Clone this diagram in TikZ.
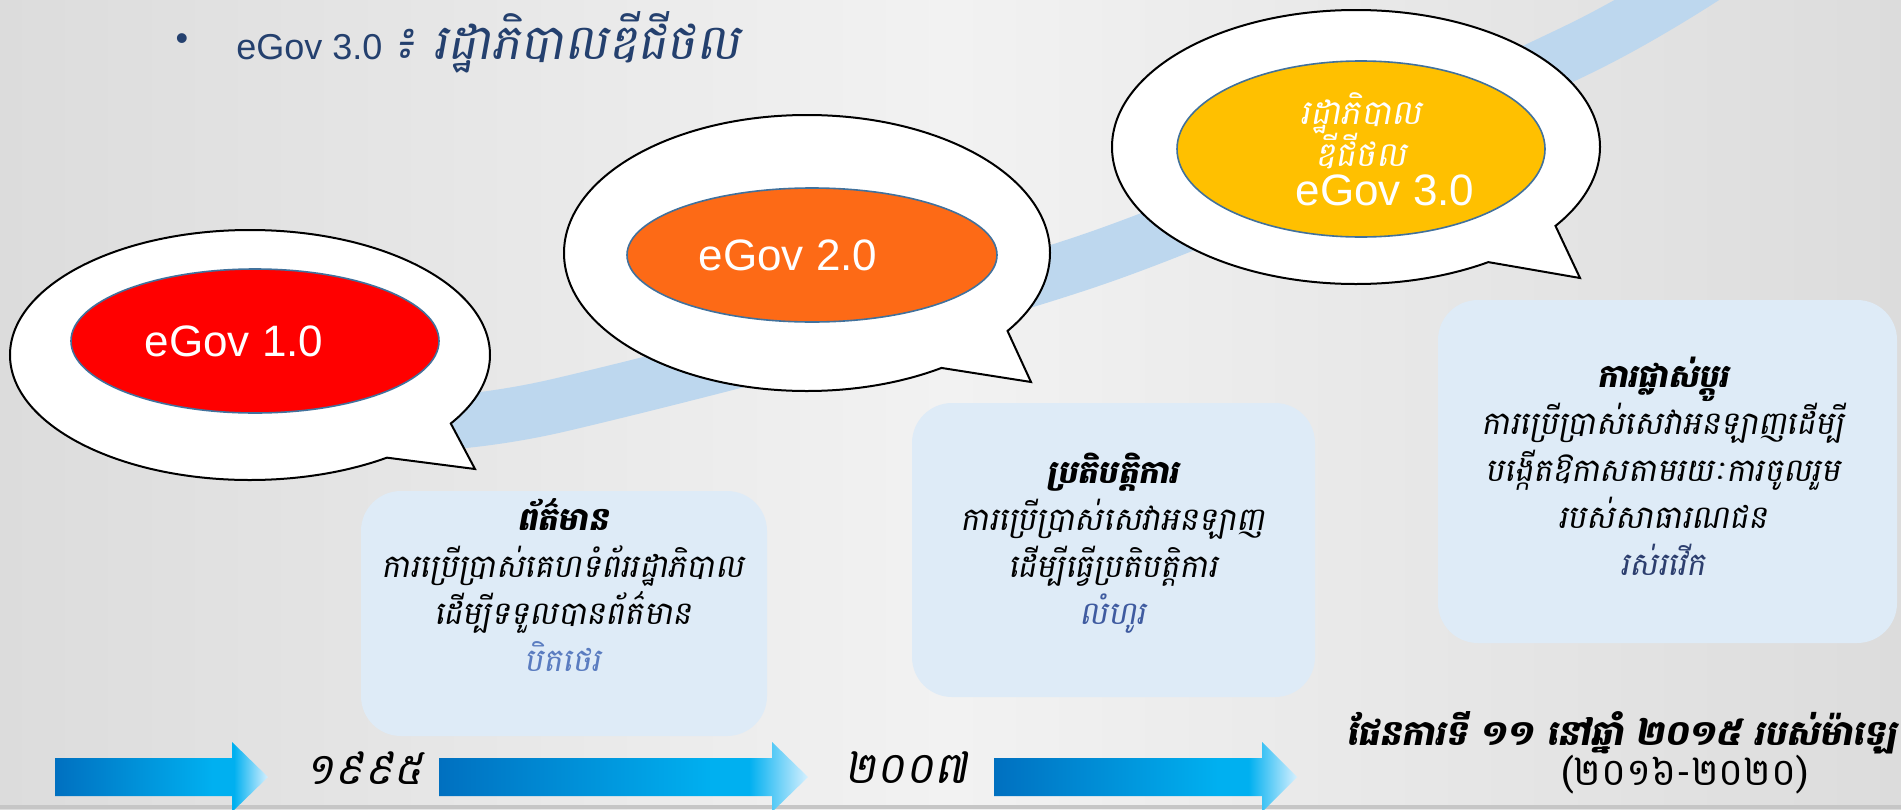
\documentclass[tikz,border=0pt]{standalone}
\usepackage{fontspec}
\setmainfont{Liberation Sans}
\newfontfamily\khmer[Script=Khmer,FakeSlant=0.18]{Battambang}
\newfontfamily\khmerup[Script=Khmer]{Battambang}
\usetikzlibrary{shapes.geometric,shapes.callouts}

\definecolor{bgdark}{HTML}{DCDCDC}
\definecolor{bglight}{HTML}{F2F2F2}
\definecolor{bandblue}{HTML}{BDD7EE}
\definecolor{rimblue}{HTML}{41719C}
\definecolor{egovred}{HTML}{FF0000}
\definecolor{egovorange}{HTML}{FD6A16}
\definecolor{egovgold}{HTML}{FFC000}
\definecolor{cardblue}{HTML}{DEEBF7}
\definecolor{navy}{HTML}{24406E}
\definecolor{tagone}{HTML}{5A7CC0}
\definecolor{tagtwo}{HTML}{3F5BA0}
\definecolor{tagthree}{HTML}{2C3E6E}
\definecolor{arrowdark}{HTML}{0070C0}
\definecolor{arrowmid}{HTML}{00B0F0}
\definecolor{arrowlight}{HTML}{D6F0FF}
\pgfdeclarehorizontalshading{arrowshade}{100bp}{color(0bp)=(arrowdark); color(25bp)=(arrowdark); color(62bp)=(arrowmid); color(67bp)=(arrowmid); color(75bp)=(arrowlight); color(100bp)=(arrowlight)}

\begin{document}
\begin{tikzpicture}[x=0.5pt,y=-0.5pt,
    bubble/.style = {ellipse callout,draw=black,line width=1pt,fill=white,inner sep=0pt,callout pointer arc=22},
    core/.style = {ellipse,draw=rimblue,line width=0.8pt,inner sep=0pt,text=white,font=\fontsize{22}{26}\selectfont},
    card/.style = {rounded corners=20pt,fill=cardblue,inner sep=0pt},
    cardtext/.style = {align=center,inner sep=0pt,font=\khmer\fontsize{16}{23.5}\selectfont},
    year/.style = {inner sep=0pt,font=\khmer\fontsize{22}{26}\selectfont}]
    \useasboundingbox (0,0) rectangle (1901,809);
    \clip (0,0) rectangle (1901,809);

    % background
    \shade[left color=bgdark,right color=bgdark,middle color=bglight] (0,0) rectangle (1901,809);
    \fill[gray!45] (0,805) rectangle (1901,809);
    \draw[bandblue,line width=27pt] plot[smooth] coordinates {(380,425) (560,405) (1100,257) (1575,51) (1760,-60)};

    % heading
    \node[inner sep=0pt,text=navy,font=\fontsize{18}{22}\selectfont] (dot) at (182,42) {•};
    \node[anchor=west,inner sep=0pt,text=navy,font=\fontsize{18}{22}\selectfont] (heading) at (236,42) {eGov 3.0 {\khmer\fontsize{24.5}{28}\selectfont ៖ រដ្ឋាភិបាលឌីជីថល}};

    % bubbles
    \node[bubble,minimum width=240pt,minimum height=125pt,callout absolute pointer={(475,469)}] (bub1) at (250,355) {};
    \node[core,fill=egovred,minimum width=184pt,minimum height=72pt] (gov1) at (255,341) {eGov 1.0\hspace*{21pt}};

    \node[bubble,minimum width=243pt,minimum height=138pt,callout absolute pointer={(1031,382)}] (bub2) at (807,253) {};
    \node[core,fill=egovorange,minimum width=185pt,minimum height=67pt] (gov2) at (812,255) {eGov 2.0\hspace*{24pt}};

    \node[bubble,minimum width=244pt,minimum height=137pt,callout absolute pointer={(1580,278)}] (bub3) at (1356,147) {};
    \node[core,fill=egovgold,minimum width=184pt,minimum height=88pt,align=center] (gov3) at (1361,149)
        {{\khmer\fontsize{17}{20}\selectfont រដ្ឋាភិបាល}\\[-5pt]{\khmer\fontsize{17}{20}\selectfont ឌីជីថល\hspace*{12pt}}\\[-6.5pt]\hspace*{24pt}eGov 3.0};

    % cards
    \node[card,minimum width=203pt,minimum height=122.5pt] (info) at (564,613.5) {};
    \node[cardtext] (infotext) at (563,585)
        {{\bfseries ព័ត៌មាន}\\ការប្រើប្រាស់គេហទំព័ររដ្ឋាភិបាល\\ដើម្បីទទួលបានព័ត៌មាន\\\textcolor{tagone}{បិតថេរ}};

    \node[card,minimum width=201.5pt,minimum height=147pt] (oper) at (1113.5,550) {};
    \node[cardtext] (opertext) at (1113,543)
        {{\bfseries ប្រតិបត្តិការ}\\ការប្រើប្រាស់សេវាអនឡាញ\\ដើម្បីធ្វើប្រតិបត្តិការ\\\textcolor{tagtwo}{លំហូរ}};

    \node[card,minimum width=229.5pt,minimum height=171.5pt] (change) at (1667.5,471.5) {};
    \node[cardtext] (changetext) at (1663,466)
        {{\bfseries ការផ្លាស់ប្តូរ}\\ការប្រើប្រាស់សេវាអនឡាញដើម្បី\\បង្កើតឱកាសតាមរយៈការចូលរួម\\របស់សាធារណជន\\\textcolor{tagthree}{រស់រវើក}};

    % timeline
    \shade[shading=arrowshade] (55,758) -- (232,758) -- (232,742) -- (268,777) -- (232,812) -- (232,796) -- (55,796) -- cycle;
    \shade[shading=arrowshade] (439,758) -- (772,758) -- (772,742) -- (808,777) -- (772,812) -- (772,796) -- (439,796) -- cycle;
    \shade[shading=arrowshade] (994,758) -- (1262,758) -- (1262,742) -- (1297,777) -- (1262,812) -- (1262,796) -- (994,796) -- cycle;

    \node[year] (y1995) at (364,768) {១៩៩៥};
    \node[year] (y2007) at (906,768) {២០០៧};
    \node[anchor=west,inner sep=0pt,font=\khmer\bfseries\fontsize{17.4}{20}\selectfont] (plan) at (1346,733) {ផែនការទី ១១ នៅឆ្នាំ ២០១៥ របស់ម៉ាឡេ};
    \node[inner sep=0pt,font=\khmerup\fontsize{19}{22}\selectfont] (planyears) at (1685,775) {(២០១៦-២០២០)};
\end{tikzpicture}
\end{document}
